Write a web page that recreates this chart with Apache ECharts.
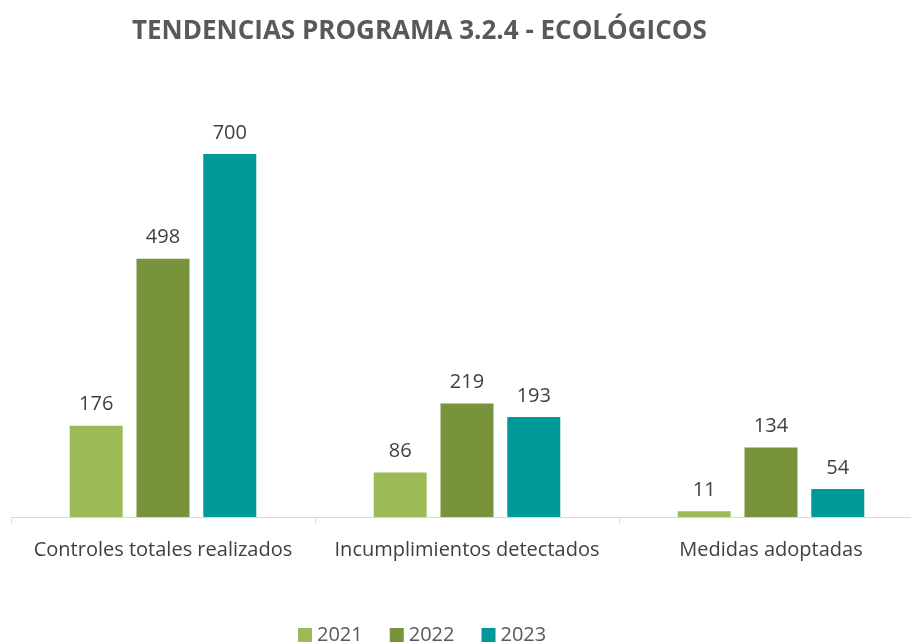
<!DOCTYPE html>
<html>
<head>
<meta charset="utf-8">
<script src="https://cdn.jsdelivr.net/npm/echarts@6/dist/echarts.min.js"></script>
<style>
  html, body { margin: 0; padding: 0; background: #fff; }
  #chart { width: 911px; height: 643px; }
</style>
</head>
<body>
<div id="chart"></div>
<script>
// categorías y valores por año
const categories = ["Controles totales realizados", "Incumplimientos detectados", "Medidas adoptadas"];
const years = ["2021", "2022", "2023"];
const values2021 = [176, 86, 11];
const values2022 = [498, 219, 134];
const values2023 = [700, 193, 54];

const colors = ["#9BBB59", "#77933C", "#009999"];
const font = "'Open Sans', 'Noto Sans', sans-serif";

const chart = echarts.init(document.getElementById("chart"));

const mkSeries = (name, data, color) => ({
  name, type: "bar", data,
  barWidth: 53, barGap: "26%",
  itemStyle: { color },
  label: { show: true, position: "top", distance: 11, color: "#404040", fontSize: 20, fontFamily: font }
});

chart.setOption({
  animation: false,
  title: {
    text: "TENDENCIAS PROGRAMA 3.2.4 - ECOLÓGICOS",
    left: 127, top: 14,
    textStyle: { color: "#595959", fontSize: 26, fontWeight: "bold", fontFamily: font }
  },
  legend: {
    data: years, top: 620, left: 293,
    itemWidth: 14, itemHeight: 14, itemGap: 27,
    icon: "rect",
    textStyle: { color: "#595959", fontSize: 20, fontFamily: font }
  },
  grid: { left: 11, width: 912, top: 102, height: 415, containLabel: false, outerBoundsMode: "none" },
  xAxis: {
    type: "category", data: categories,
    axisLine: { lineStyle: { color: "#d9d9d9", width: 1 } },
    axisTick: { show: true, length: 6, lineStyle: { color: "#d9d9d9" } },
    axisLabel: { interval: 0, color: "#404040", fontSize: 20, fontFamily: font, margin: 23 }
  },
  yAxis: {
    type: "value", min: 0, max: 800, show: false,
    splitLine: { show: false }
  },
  series: [
    mkSeries(years[0], values2021, colors[0]),
    mkSeries(years[1], values2022, colors[1]),
    mkSeries(years[2], values2023, colors[2])
  ]
});

window.addEventListener("resize", () => chart.resize());
</script>
</body>
</html>
